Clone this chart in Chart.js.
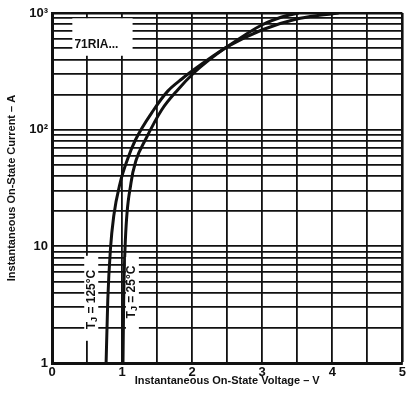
<!DOCTYPE html>
<html>
<head>
<meta charset="utf-8">
<script src="https://cdn.jsdelivr.net/npm/chart.js@4.4.1/dist/chart.umd.min.js"></script>
<style>
  html, body { margin: 0; padding: 0; background: #fff; }
  #wrap { width: 408px; height: 395px; }
</style>
</head>
<body>
<div id="wrap"><canvas id="chart"></canvas></div>
<script>
// on-state voltage vs current, T_J = 125°C and 25°C
const voltsTj125 = [0.772, 0.796, 0.833, 0.881, 0.972, 1.074, 1.19, 1.45, 1.652, 1.852, 2.038, 2.238, 2.494, 2.993, 3.49, 3.846, 4.09];
const ampsTj125  = [1, 3.47, 9.3, 18.2, 34.9, 55, 81.5, 147.5, 214, 272, 331, 403, 511, 715, 888, 961, 1000];
const voltsTj25  = [1.013, 1.023, 1.047, 1.127, 1.201, 1.331, 1.564, 1.793, 2.038, 2.238, 2.494, 2.993, 3.279, 3.52];
const ampsTj25   = [1, 3.47, 11.3, 34.9, 55, 81.5, 147.5, 219, 312, 395, 511, 789, 924, 1000];

const voltTicks = [0, 0.5, 1, 1.5, 2, 2.5, 3, 3.5, 4, 4.5, 5];
const currentTicks = [1, 2, 3, 4, 5, 6, 7, 8, 9,
                      10, 20, 30, 40, 50, 60, 70, 80, 90,
                      100, 200, 300, 400, 500, 600, 700, 800, 900, 1000];
const currentLabels = { 1: '1', 10: '10', 100: '10²', 1000: '10³' };

const ink = '#111';
const tickFont = { family: 'Liberation Sans, Arial, sans-serif', size: 13, weight: 'bold' };
const titleFont = { family: 'Liberation Sans, Arial, sans-serif', size: 11, weight: 'bold' };

const toPoints = (xs, ys) => xs.map((v, i) => ({ x: v, y: ys[i] }));

// text boxes drawn over the grid
const notes = {
  id: 'notes',
  afterDatasetsDraw(chart) {
    const { ctx, scales: { x, y } } = chart;
    ctx.save();
    ctx.fillStyle = '#fff';

    // part number
    ctx.fillRect(x.getPixelForValue(0.29), y.getPixelForValue(900),
      x.getPixelForValue(1.15) - x.getPixelForValue(0.29),
      y.getPixelForValue(430) - y.getPixelForValue(900));
    ctx.fillStyle = ink;
    ctx.font = 'bold 12px "Liberation Sans", Arial, sans-serif';
    ctx.textBaseline = 'middle';
    ctx.textAlign = 'left';
    ctx.fillText('71RIA...', x.getPixelForValue(0.32), y.getPixelForValue(531));

    const junction = (temp, v, i, v0, v1, i0, i1) => {
      ctx.fillStyle = '#fff';
      const bx = x.getPixelForValue(v0), by = y.getPixelForValue(i1);
      ctx.fillRect(bx, by, x.getPixelForValue(v1) - bx, y.getPixelForValue(i0) - by);

      const big = 'bold 12px "Liberation Sans", Arial, sans-serif';
      const small = 'bold 9px "Liberation Sans", Arial, sans-serif';
      const rest = ' = ' + temp + '°C';
      ctx.font = big;
      const wT = ctx.measureText('T').width;
      const wR = ctx.measureText(rest).width;
      ctx.font = small;
      const wJ = ctx.measureText('J').width;
      const w = wT + wJ + wR;

      ctx.save();
      ctx.translate(x.getPixelForValue(v), y.getPixelForValue(i));
      ctx.rotate(-Math.PI / 2);
      ctx.fillStyle = ink;
      ctx.textAlign = 'left';
      ctx.textBaseline = 'middle';
      let cx = -w / 2;
      ctx.font = big;
      ctx.fillText('T', cx, 0);
      cx += wT;
      ctx.font = small;
      ctx.fillText('J', cx, 3);
      cx += wJ;
      ctx.font = big;
      ctx.fillText(rest, cx, 0);
      ctx.restore();
    };
    junction('125', 0.56, 3.5, 0.46, 0.66, 1.55, 8.3);
    junction('25', 1.14, 4.06, 1.055, 1.24, 1.95, 8.1);
    ctx.restore();
  }
};

const edgeWidth = (ctx, last) => (ctx.tick && ctx.tick.value === last ? 2.6 : 1.8);

const curve = (label, data) => ({
  label,
  data,
  borderColor: ink,
  borderWidth: 3,
  pointRadius: 0,
  cubicInterpolationMode: 'monotone'
});

new Chart(document.getElementById('chart'), {
  type: 'line',
  data: {
    datasets: [
      curve('TJ = 125°C', toPoints(voltsTj125, ampsTj125)),
      curve('TJ = 25°C', toPoints(voltsTj25, ampsTj25))
    ]
  },
  options: {
    responsive: true,
    maintainAspectRatio: false,
    animation: false,
    layout: { padding: { top: 13, right: 3, left: 0, bottom: 0 } },
    plugins: {
      legend: { display: false },
      tooltip: { enabled: false }
    },
    scales: {
      x: {
        type: 'linear',
        min: 0,
        max: 5,
        afterBuildTicks: s => { s.ticks = voltTicks.map(v => ({ value: v })); },
        afterFit: s => { s.height = 32; },
        grid: { color: ink, lineWidth: c => edgeWidth(c, 5), drawTicks: false },
        border: { color: ink, width: 3 },
        ticks: {
          autoSkip: false,
          maxRotation: 0,
          padding: 2,
          color: ink,
          font: tickFont,
          callback: v => (Number.isInteger(v) ? String(v) : '')
        },
        title: {
          display: true,
          text: 'Instantaneous On-State Voltage – V',
          color: ink,
          font: titleFont,
          padding: 7
        }
      },
      y: {
        type: 'logarithmic',
        min: 1,
        max: 1000,
        afterBuildTicks: s => { s.ticks = currentTicks.map(v => ({ value: v })); },
        afterFit: s => { s.width = 52; },
        grid: { color: ink, lineWidth: c => edgeWidth(c, 1000), drawTicks: false },
        border: { color: ink, width: 3 },
        ticks: {
          autoSkip: false,
          padding: 4,
          color: ink,
          font: tickFont,
          callback: v => currentLabels[v] || ''
        },
        title: {
          display: true,
          text: 'Instantaneous On-State Current – A',
          color: ink,
          font: titleFont,
          padding: 5
        }
      }
    }
  },
  plugins: [notes]
});
</script>
</body>
</html>
